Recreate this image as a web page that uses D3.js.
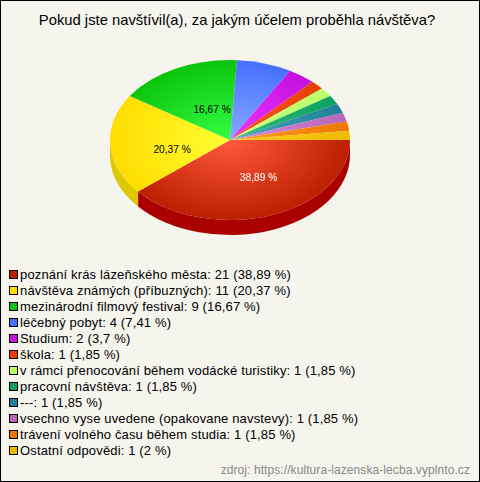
<!DOCTYPE html>
<html><head><meta charset="utf-8">
<script src="https://cdnjs.cloudflare.com/ajax/libs/d3/7.8.5/d3.min.js"></script>
<style>html,body{margin:0;padding:0;background:#fff}svg{display:block}text{font-family:"Liberation Sans",Arial,sans-serif}</style>
</head><body><svg id="c" width="480" height="482"></svg>
<script>
const title = "Pokud jste navštívil(a), za jakým účelem proběhla návštěva?";
const source = "zdroj: https://kultura-lazenska-lecba.vyplnto.cz";
const categories = ["poznání krás lázeňského města","návštěva známých (příbuzných)","mezinárodní filmový festival","léčebný pobyt","Studium","škola","v rámci přenocování během vodácké turistiky","pracovní návštěva","---","vsechno vyse uvedene (opakovane navstevy)","trávení volného času během studia","Ostatní odpovědi"];
const counts = [21,11,9,4,2,1,1,1,1,1,1,1];
const percents = ["38,89","20,37","16,67","7,41","3,7","1,85","1,85","1,85","1,85","1,85","1,85","2"];
const colors = ["#bb1f00","#ffdd00","#0cc40c","#4570ff","#c411dd","#e63f00","#b8ff66","#0fa060","#1f8099","#b866b8","#ee7700","#eebb00"];
const lights = ["#ff5a3c","#ffff33","#33ff44","#88aaff","#ee33ff","#ff5522","#ccff88","#33bb77","#44aabb","#dd88dd","#ffa020","#ffcc22"];
const sides = ["#aa0000","#e0c800","#0a9a0a","#3355bb","#9911aa","#bb3300","#99cc55","#0d8050","#186a7a","#995599","#bb5500","#e0c000"];
const labelled = [0,1,2];
const labelColors = ["#fff","#000","#000"];

const W=480,H=482,cx=230,cy=140,rx=120,ry=80,depth=15;
const labelNudge=[[8,0],[2,7],[9,5]];
const svg=d3.select("#c");
svg.append("rect").attr("x",0.5).attr("y",0.5).attr("width",W-1).attr("height",H-1).attr("fill","#f5f5ee").attr("stroke","#000");
svg.append("text").attr("x",237).attr("y",25).attr("text-anchor","middle").attr("font-size",14.8).attr("fill","#000").text(title);

const total=d3.sum(counts);
const angle=d3.scaleLinear().domain([0,total]).range([0,2*Math.PI]);
const cum=d3.cumsum(counts);
const slices=counts.map((v,i)=>({i,a0:angle(i?cum[i-1]:0),a1:angle(cum[i])}));
const px=a=>cx+rx*Math.cos(a), py=a=>cy+ry*Math.sin(a);
const defs=svg.append("defs");
slices.forEach(s=>{
  const g=defs.append("radialGradient").attr("id","g"+s.i).attr("gradientUnits","userSpaceOnUse")
    .attr("cx",0).attr("cy",0).attr("r",1).attr("gradientTransform",`translate(${cx},${cy}) scale(${rx},${ry})`);
  g.append("stop").attr("offset",0).attr("stop-color",lights[s.i]);
  g.append("stop").attr("offset",1).attr("stop-color",colors[s.i]);
});
slices.filter(s=>s.a0<Math.PI).forEach(s=>{
  const a0=s.a0,a1=Math.min(s.a1,Math.PI);
  svg.append("path").attr("fill",sides[s.i])
   .attr("d",`M${px(a0)},${py(a0)}A${rx},${ry} 0 0 1 ${px(a1)},${py(a1)}L${px(a1)},${py(a1)+depth}A${rx},${ry} 0 0 0 ${px(a0)},${py(a0)+depth}Z`);
});
svg.selectAll("path.top").data(slices).join("path").attr("class","top")
  .attr("fill",d=>`url(#g${d.i})`)
  .attr("d",d=>`M${cx},${cy}L${px(d.a0)},${py(d.a0)}A${rx},${ry} 0 ${d.a1-d.a0>Math.PI?1:0} 1 ${px(d.a1)},${py(d.a1)}Z`);
const lr=0.5;
labelled.forEach((i,k)=>{
  const s=slices[i],m=(s.a0+s.a1)/2;
  svg.append("text").attr("x",cx+rx*lr*Math.cos(m)+labelNudge[k][0]).attr("y",cy+ry*lr*Math.sin(m)+labelNudge[k][1]+3.5)
    .attr("text-anchor","middle").attr("font-size",10.2).attr("fill",labelColors[k]).text(percents[i]+" %");
});
const ly=d3.scaleBand().domain(d3.range(categories.length)).range([266,458]);
categories.forEach((c,i)=>{
  const y=ly(i);
  svg.append("rect").attr("x",9.5).attr("y",y+4.5).attr("width",8).attr("height",8).attr("fill",colors[i]).attr("stroke","#000");
  svg.append("text").attr("x",20).attr("y",y+13).attr("font-size",13).attr("letter-spacing",0.15).attr("fill","#000").text(`${c}: ${counts[i]} (${percents[i]} %)`);
});
svg.append("text").attr("x",470).attr("y",474).attr("text-anchor","end").attr("font-size",12).attr("letter-spacing",0.08).attr("fill","#888").text(source);
</script></body></html>
